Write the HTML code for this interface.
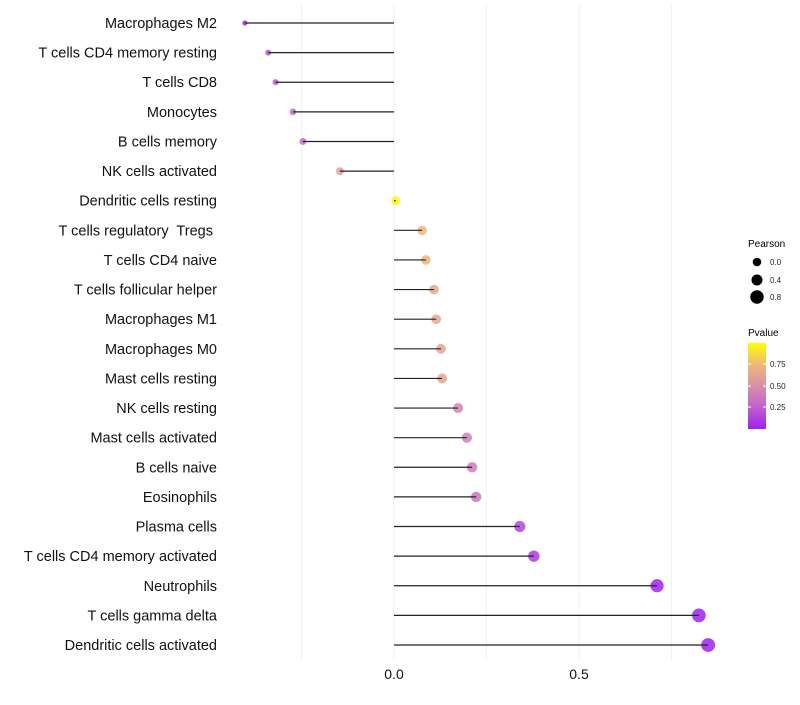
<!DOCTYPE html>
<html><head><meta charset="utf-8"><style>
body{margin:0;background:#fff;font-family:"Liberation Sans",sans-serif}
text{white-space:pre}
</style></head><body>
<svg id="chart" width="800" height="700" xmlns="http://www.w3.org/2000/svg">
<defs><linearGradient id="pg" x1="0" y1="1" x2="0" y2="0">
<stop offset="0" stop-color="#A020F0"/><stop offset="0.25" stop-color="#c060d0"/>
<stop offset="0.5" stop-color="#d890a8"/><stop offset="0.75" stop-color="#f0b878"/>
<stop offset="1" stop-color="#FFFF00"/></linearGradient></defs>
<g id="grid"></g><g id="dots"></g><g id="marks"></g><g id="labels"></g>
<g>
<text x="748" y="247" font-size="10">Pearson</text>
<circle cx="757" cy="262" r="4.3" fill="#000"/><text x="770" y="265" font-size="8" fill="#222">0.0</text>
<circle cx="757" cy="280" r="5.5" fill="#000"/><text x="770" y="283" font-size="8" fill="#222">0.4</text>
<circle cx="757" cy="297" r="6.7" fill="#000"/><text x="770" y="300" font-size="8" fill="#222">0.8</text>
<text x="748" y="336" font-size="10">Pvalue</text>
<rect x="748" y="343" width="18" height="86" fill="url(#pg)"/>
<line x1="748" x2="751" y1="364" y2="364" stroke="#fff"/><line x1="763" x2="766" y1="364" y2="364" stroke="#fff"/>
<line x1="748" x2="751" y1="386" y2="386" stroke="#fff"/><line x1="763" x2="766" y1="386" y2="386" stroke="#fff"/>
<line x1="748" x2="751" y1="407" y2="407" stroke="#fff"/><line x1="763" x2="766" y1="407" y2="407" stroke="#fff"/>
<text x="770" y="367" font-size="8" fill="#222">0.75</text>
<text x="770" y="389" font-size="8" fill="#222">0.50</text>
<text x="770" y="410" font-size="8" fill="#222">0.25</text>
</g>
</svg>
<script>
const categories=["Macrophages M2","T cells CD4 memory resting","T cells CD8","Monocytes","B cells memory","NK cells activated","Dendritic cells resting","T cells regulatory  Tregs ","T cells CD4 naive","T cells follicular helper","Macrophages M1","Macrophages M0","Mast cells resting","NK cells resting","Mast cells activated","B cells naive","Eosinophils","Plasma cells","T cells CD4 memory activated","Neutrophils","T cells gamma delta","Dendritic cells activated"];
const pearson=[-0.403,-0.34,-0.32,-0.273,-0.246,-0.146,0.005,0.076,0.086,0.108,0.114,0.127,0.13,0.173,0.197,0.211,0.222,0.34,0.378,0.711,0.824,0.849];
const pvalues=[0.02,0.2,0.22,0.3,0.3,0.6,0.99,0.75,0.72,0.66,0.65,0.63,0.63,0.45,0.42,0.38,0.36,0.15,0.1,0.005,0.003,0.002];
const xTicks=[0,0.5];
const xTickLabels=["0.0","0.5"];
const gridVals=[-0.25,0.25,0.75];
const NS="http://www.w3.org/2000/svg";
const xs=v=>394+v*370;
const ys=i=>23+i*(645-23)/(categories.length-1);
const rs=v=>Math.sqrt(Math.max(2,20+33*v));
const stops=[[0,[160,32,240]],[0.25,[192,96,208]],[0.5,[216,144,168]],[0.75,[240,184,120]],[1,[255,255,0]]];
function col(p){for(let k=1;k<stops.length;k++){if(p<=stops[k][0]){const a=stops[k-1],b=stops[k],t=(p-a[0])/(b[0]-a[0]);return "rgb("+a[1].map((c,j)=>Math.round(c+(b[1][j]-c)*t)).join(",")+")";}}return "rgb(255,255,0)";}
function mk(t,a,parent){const e=document.createElementNS(NS,t);for(const k in a)e.setAttribute(k,a[k]);parent.appendChild(e);return e;}
const grid=document.getElementById('grid'),marks=document.getElementById('marks'),dots=document.getElementById('dots'),labels=document.getElementById('labels');
gridVals.concat(xTicks).forEach(v=>{const l=mk('line',{x1:xs(v),x2:xs(v),y1:5,y2:660,stroke:'#f1f1f1','stroke-width':1},grid);

});
xTicks.forEach((v,i)=>{const t=mk('text',{x:xs(v),y:679,'font-size':14,'text-anchor':'middle',fill:'#111'},labels);t.textContent=xTickLabels[i];

});
categories.forEach((c,i)=>{const y=ys(i);
const t=mk('text',{x:217,y:y+5,'font-size':14.5,'text-anchor':'end',fill:'#111'},labels);t.textContent=c;


const l=mk('line',{x1:xs(0),x2:xs(pearson[i]),y1:y,y2:y,stroke:'#222','stroke-width':1.2},marks);


const d=mk('circle',{cx:xs(pearson[i]),cy:y,r:rs(pearson[i]),fill:col(pvalues[i]),'fill-opacity':0.85},dots);


});
</script>
</body></html>
